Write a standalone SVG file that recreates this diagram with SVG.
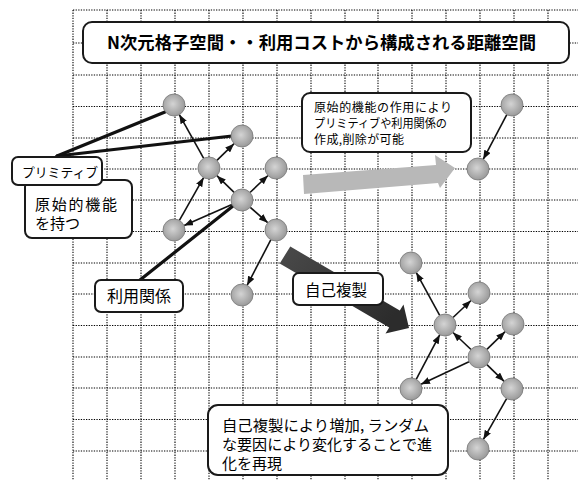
<svg xmlns="http://www.w3.org/2000/svg" width="578" height="480" viewBox="0 0 578 480">
<defs>
<style>
.grid{stroke:#000;stroke-width:1.1;stroke-dasharray:1.3,1.3;fill:none}
.box{fill:#fff;stroke:#1a1a1a;stroke-width:2}
.t{font-family:"Noto Sans CJK JP","Noto Sans",sans-serif;fill:#000}
.node{fill:url(#ng);stroke:#777;stroke-width:0.8}
.edge{stroke:#111;stroke-width:1.6;fill:none;marker-end:url(#ah)}
.callout{stroke:#111;stroke-width:3.2;fill:none;stroke-linecap:round}
</style>
<radialGradient id="ng" cx="0.45" cy="0.45" r="0.6">
<stop offset="0" stop-color="#d4d4d4"/>
<stop offset="1" stop-color="#959595"/>
</radialGradient>
<linearGradient id="dg" x1="0" y1="0" x2="1" y2="0.6">
<stop offset="0" stop-color="#4a4a4a"/>
<stop offset="1" stop-color="#2c2c2c"/>
</linearGradient>
<marker id="ah" markerUnits="userSpaceOnUse" markerWidth="9" markerHeight="7" refX="9" refY="3.5" orient="auto">
<path d="M0,0 L9,3.5 L0,7 z" fill="#111"/>
</marker>
</defs>
<rect width="578" height="480" fill="#fff"/>
<g id="grid">
<path class="grid" d="M73,10V480M107,10V480M141,10V480M175,10V480M209,10V480M243,10V480M277,10V480M311,10V480M345,10V480M378,10V480M412,10V480M446,10V480M480,10V480M514,10V480M548,10V480"/>
<path class="grid" d="M73,10H578M73,43H578M73,75H578M73,106.5H578M73,138H578M73,169H578M73,200H578M73,231.5H578M73,263H578M73,294H578M73,325.5H578M73,357H578M73,388H578M73,419.5H578M73,451H578"/>
</g>
<g id="title">
<rect class="box" x="83" y="22" width="486" height="41" rx="9"/>
<text class="t" x="107" y="49" font-size="17.5" font-weight="bold" textLength="429" lengthAdjust="spacingAndGlyphs">N次元格子空間・・利用コストから構成される距離空間</text>
</g>
<g id="big-arrows">
<polygon points="303,175 436,165 435,155 455,168 440,188 438,183 304,194" fill="#b8b8b8"/>
<polygon points="290.3,246.5 399.8,310.5 403.5,304.5 409,328 385.5,333.5 389.2,327.5 279.7,263.5" fill="url(#dg)"/>
</g>
<g id="callouts">
<path class="callout" d="M57,156 L165,112"/>
<path class="callout" d="M57,156 L232,136"/>
<path class="callout" d="M140,280 L233,206"/>
</g>
<g id="connectors">
<line class="edge" x1="234.1" y1="192.3" x2="216.9" y2="175.7"/>
<line class="edge" x1="250" y1="192.5" x2="268" y2="175.5"/>
<line class="edge" x1="231.9" y1="204.4" x2="184.1" y2="225.6"/>
<line class="edge" x1="250.3" y1="207.3" x2="267.7" y2="222.7"/>
<line class="edge" x1="203.7" y1="158.4" x2="179.3" y2="114.6"/>
<line class="edge" x1="216.9" y1="160.3" x2="234.1" y2="143.7"/>
<line class="edge" x1="179.4" y1="220.4" x2="203.6" y2="177.6"/>
<line class="edge" x1="270.9" y1="239.7" x2="247.1" y2="285.3"/>
<line class="edge" x1="506.8" y1="114.7" x2="483.2" y2="159.3"/>
<line class="edge" x1="471" y1="349.5" x2="453" y2="332.5"/>
<line class="edge" x1="486.9" y1="349.3" x2="505.1" y2="331.7"/>
<line class="edge" x1="469" y1="361.7" x2="421" y2="384.3"/>
<line class="edge" x1="486.9" y1="364.7" x2="504.1" y2="381.3"/>
<line class="edge" x1="439.7" y1="315.4" x2="416.3" y2="272.6"/>
<line class="edge" x1="453" y1="317.5" x2="471" y2="300.5"/>
<line class="edge" x1="416.2" y1="379.3" x2="439.8" y2="334.7"/>
<line class="edge" x1="506.6" y1="398.6" x2="483.4" y2="439.4"/>
</g>
<g id="nodeA"><circle class="node" cx="174" cy="105" r="11"/></g>
<g id="nodeB"><circle class="node" cx="242" cy="136" r="11"/></g>
<g id="nodeC"><circle class="node" cx="209" cy="168" r="11"/></g>
<g id="nodeD"><circle class="node" cx="276" cy="168" r="11"/></g>
<g id="nodeE"><circle class="node" cx="242" cy="200" r="11"/></g>
<g id="nodeF"><circle class="node" cx="174" cy="230" r="11"/></g>
<g id="nodeG"><circle class="node" cx="276" cy="230" r="11"/></g>
<g id="nodeH"><circle class="node" cx="242" cy="295" r="11"/></g>
<g id="nodeP"><circle class="node" cx="512" cy="105" r="11"/></g>
<g id="nodeQ"><circle class="node" cx="478" cy="169" r="11"/></g>
<g id="nodeR1"><circle class="node" cx="411" cy="263" r="11"/></g>
<g id="nodeR2"><circle class="node" cx="479" cy="293" r="11"/></g>
<g id="nodeR3"><circle class="node" cx="445" cy="325" r="11"/></g>
<g id="nodeR4"><circle class="node" cx="513" cy="324" r="11"/></g>
<g id="nodeR5"><circle class="node" cx="479" cy="357" r="11"/></g>
<g id="nodeR6"><circle class="node" cx="411" cy="389" r="11"/></g>
<g id="nodeR7"><circle class="node" cx="512" cy="389" r="11"/></g>
<g id="nodeR8"><circle class="node" cx="478" cy="449" r="11"/></g>
<g id="label-genshi">
<rect class="box" x="25" y="180" width="107" height="58" rx="7"/>
<text class="t" x="35" y="210" font-size="15" textLength="82" lengthAdjust="spacing">原始的機能</text>
<text class="t" x="35" y="229" font-size="15">を持つ</text>
</g>
<g id="label-primitive">
<rect class="box" x="12" y="157" width="90" height="28" rx="6"/>
<text class="t" x="22" y="177" font-size="13" textLength="76" lengthAdjust="spacingAndGlyphs">プリミティブ</text>
</g>
<g id="label-riyou">
<rect class="box" x="95" y="280" width="88" height="32" rx="6"/>
<text class="t" x="107" y="302" font-size="16">利用関係</text>
</g>
<g id="label-jiko">
<rect class="box" x="293" y="273" width="90" height="32" rx="6"/>
<text class="t" x="305" y="296" font-size="15.5">自己複製</text>
</g>
<g id="label-sayou">
<rect class="box" x="302" y="93" width="169" height="59" rx="8"/>
<text class="t" x="314" y="112" font-size="12" textLength="138" lengthAdjust="spacing">原始的機能の作用により</text>
<text class="t" x="314" y="128" font-size="12" textLength="133" lengthAdjust="spacingAndGlyphs">プリミティブや利用関係の</text>
<text class="t" x="314" y="144" font-size="12" textLength="90" lengthAdjust="spacing">作成,削除が可能</text>
</g>
<g id="label-zouka">
<rect class="box" x="208" y="405" width="240" height="70" rx="10"/>
<text class="t" x="222" y="431" font-size="15" textLength="207" lengthAdjust="spacingAndGlyphs">自己複製により増加, ランダム</text>
<text class="t" x="222" y="450" font-size="15" textLength="210" lengthAdjust="spacingAndGlyphs">な要因により変化することで進</text>
<text class="t" x="222" y="469" font-size="15">化を再現</text>
</g>
</svg>
